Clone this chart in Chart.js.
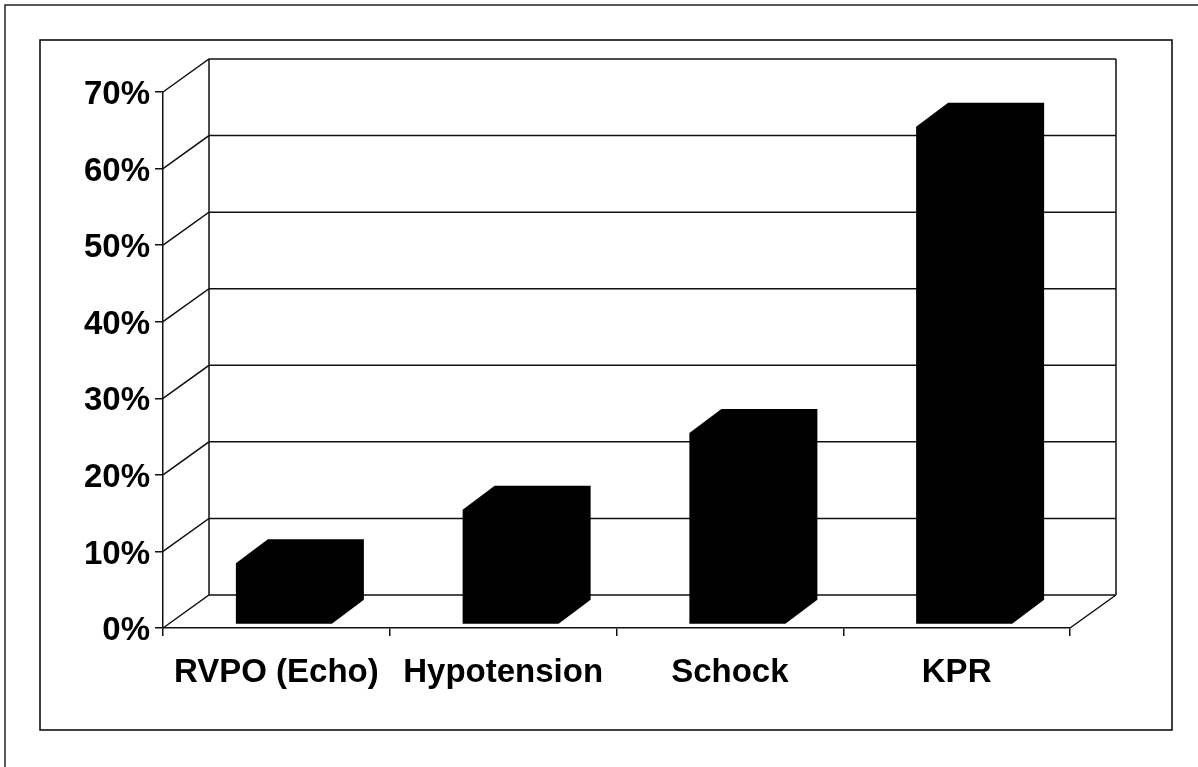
<!DOCTYPE html>
<html>
<head>
<meta charset="utf-8">
<style>
  html, body { margin: 0; padding: 0; background: #ffffff; }
  #wrap { width: 1198px; height: 767px; }
</style>
<script src="https://cdn.jsdelivr.net/npm/chart.js@4.4.1/dist/chart.umd.min.js"></script>
</head>
<body>
<div id="wrap"><canvas id="chart" width="1198" height="767"></canvas></div>
<script>
// Categories and shares (fraction of patients)
const categories = ['RVPO (Echo)', 'Hypotension', 'Schock', 'KPR'];
const shares = [0.08, 0.15, 0.25, 0.65];
const yTickValues = [0, 0.1, 0.2, 0.3, 0.4, 0.5, 0.6, 0.7];

// Oblique projection of the back wall and of the bar depth
const WALL_DX = 46, WALL_DY = 33;
const BAR_DX = 32, BAR_DY = 24;
const BAR_SHIFT_X = 7.5, BAR_SHIFT_Y = 3.5, BAR_HALF = 48;

const FONT = "'Liberation Sans', Arial, Helvetica, sans-serif";

const framePlugin = {
  id: 'frames',
  beforeDraw(chart) {
    const ctx = chart.ctx;
    ctx.save();
    ctx.fillStyle = '#ffffff';
    ctx.fillRect(0, 0, chart.width, chart.height);
    ctx.strokeStyle = '#222';
    ctx.lineWidth = 1.5;
    ctx.strokeRect(5, 5, 1400, 1000);
    ctx.strokeStyle = '#000';
    ctx.strokeRect(40, 40, 1132, 690);
    ctx.restore();
  }
};

const wallPlugin = {
  id: 'walls',
  beforeDatasetsDraw(chart) {
    const ctx = chart.ctx;
    const x = chart.scales.x, y = chart.scales.y;
    const left = x.left, right = x.right;
    const y0 = y.getPixelForValue(0);
    const yTop = y.getPixelForValue(yTickValues[yTickValues.length - 1]);
    ctx.save();
    ctx.strokeStyle = '#111';
    ctx.lineWidth = 1.5;
    ctx.beginPath();
    yTickValues.forEach(v => {
      const py = y.getPixelForValue(v);
      // side wall diagonal
      ctx.moveTo(left, py);
      ctx.lineTo(left + WALL_DX, py - WALL_DY);
      // back wall gridline
      ctx.lineTo(right + WALL_DX, py - WALL_DY);
    });
    // back wall edges
    ctx.moveTo(left + WALL_DX, yTop - WALL_DY);
    ctx.lineTo(left + WALL_DX, y0 - WALL_DY);
    ctx.moveTo(right + WALL_DX, yTop - WALL_DY);
    ctx.lineTo(right + WALL_DX, y0 - WALL_DY);
    // floor right edge
    ctx.moveTo(right, y0);
    ctx.lineTo(right + WALL_DX, y0 - WALL_DY);
    ctx.stroke();
    ctx.restore();
  },
  afterDatasetsDraw(chart) {
    const ctx = chart.ctx;
    const meta = chart.getDatasetMeta(0);
    ctx.save();
    ctx.fillStyle = '#000';
    meta.data.forEach(bar => {
      const cx = bar.x + BAR_SHIFT_X;
      const L = cx - BAR_HALF, R = cx + BAR_HALF;
      const top = bar.y - BAR_SHIFT_Y, bottom = bar.base - BAR_SHIFT_Y;
      ctx.beginPath();
      ctx.moveTo(L, bottom);
      ctx.lineTo(R, bottom);
      ctx.lineTo(R + BAR_DX, bottom - BAR_DY);
      ctx.lineTo(R + BAR_DX, top - BAR_DY);
      ctx.lineTo(L + BAR_DX, top - BAR_DY);
      ctx.lineTo(L, top);
      ctx.closePath();
      ctx.fill();
    });
    ctx.restore();
  }
};

new Chart(document.getElementById('chart'), {
  type: 'bar',
  data: {
    labels: categories,
    datasets: [{
      data: shares,
      backgroundColor: 'rgba(0,0,0,0)',
      borderWidth: 0,
      categoryPercentage: 1,
      barPercentage: 0.42
    }]
  },
  options: {
    responsive: false,
    devicePixelRatio: 1,
    animation: false,
    layout: { padding: { left: 0, right: 128, top: 92, bottom: 0 } },
    plugins: { legend: { display: false }, tooltip: { enabled: false } },
    scales: {
      x: {
        offset: true,
        grid: { offset: true, drawOnChartArea: false, drawTicks: true, tickLength: 8, color: '#111', lineWidth: 1.5 },
        border: { display: true, color: '#111', width: 1.5 },
        ticks: { color: '#000', font: { family: FONT, size: 33, weight: 'bold' }, padding: 17, maxRotation: 0, autoSkip: false },
        afterFit(scale) { scale.height = 139; }
      },
      y: {
        min: 0,
        max: 0.7,
        grid: { drawOnChartArea: false, drawTicks: true, tickLength: 8, color: '#111', lineWidth: 1.5 },
        border: { display: true, color: '#111', width: 1.5 },
        ticks: {
          stepSize: 0.1,
          color: '#000',
          padding: 5,
          labelOffset: 3,
          font: { family: FONT, size: 33, weight: 'bold' },
          callback: v => Math.round(v * 100) + '%'
        },
        afterFit(scale) { scale.width = 163; }
      }
    }
  },
  plugins: [framePlugin, wallPlugin]
});
</script>
</body>
</html>
